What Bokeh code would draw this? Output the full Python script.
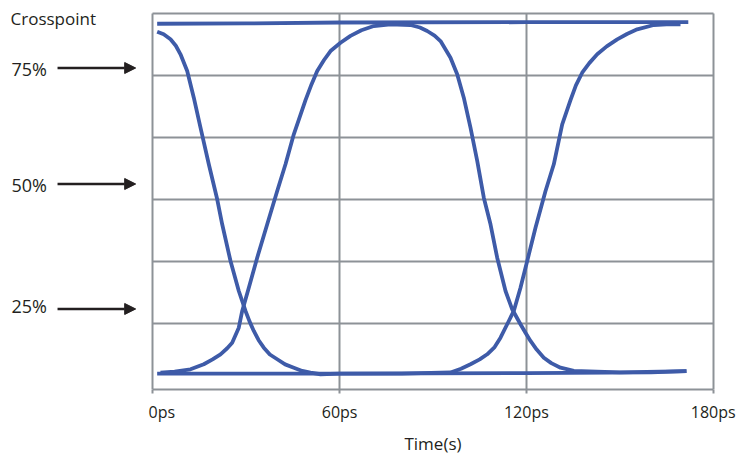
from bokeh.plotting import figure
from bokeh.layouts import row
from bokeh.models import FixedTicker, Grid, Label, Arrow, NormalHead, Range1d
from bokeh.embed import file_html
from bokeh.resources import INLINE

# ---- data ----
time_ticks = [0, 60, 120, 180]
tick_labels = ["0ps", "60ps", "120ps", "180ps"]
level_grid = [1, 2, 3, 4, 5, 6]
box_bottom = -0.065

top_t = [1.4, 30.0, 60.0, 120.0, 172.0]
top_v = [5.835, 5.84, 5.855, 5.86, 5.86]

bottom_t = [1.4, 60.0, 120.0, 160.0, 171.4]
bottom_v = [0.19, 0.19, 0.20, 0.21, 0.23]

# high -> low -> high
fall_rise_t = [1.41, 3.5, 5.69, 7.4, 8.90, 11.05, 13.17, 15.32, 17.99, 20.69, 22.29, 24.96,
               27.62, 29.78, 31.1, 32.44, 34.0, 35.65, 37.6, 39.96, 42.5, 45.29, 48.0, 50.65,
               53.87, 60.0, 80.0, 95.62, 99.0, 102.04, 105.0, 107.41, 109.8, 111.68, 114.35,
               115.95, 118.10, 120.26, 122.92, 126.14, 128.80, 131.50, 134.16, 135.9, 137.92,
               140.2, 142.74, 145.8, 149.17, 152.3, 155.59, 160.92, 165.0, 169.5]
fall_rise_v = [5.706, 5.665, 5.584, 5.48, 5.342, 5.073, 4.642, 4.158, 3.568, 3.003, 2.600, 2.008,
               1.524, 1.202, 1.03, 0.879, 0.73, 0.610, 0.50, 0.423, 0.34, 0.287, 0.235, 0.206,
               0.181, 0.19, 0.19, 0.21, 0.27, 0.342, 0.42, 0.503, 0.62, 0.771, 1.040,
               1.202, 1.577, 2.008, 2.545, 3.137, 3.568, 4.213, 4.602, 4.84, 5.045,
               5.20, 5.342, 5.47, 5.584, 5.67, 5.745, 5.815, 5.826, 5.826]

# low -> high -> low
rise_fall_t = [2.47, 7.0, 12.11, 16.38, 19.2, 21.75, 23.9, 25.50, 27.62, 28.72, 30.84, 33.53,
               36.75, 39.96, 42.62, 45.29, 49.05, 51.0, 52.81, 55.0, 57.08, 60.29, 63.50, 67.0,
               70.99, 76.35, 82.77, 85.8, 88.14, 90.5, 92.41, 95.62, 97.77, 99.89, 102.04,
               104.20, 106.32, 108.47, 110.62, 113.29, 115.44, 118.10, 119.7, 121.32, 123.3,
               125.59, 128.0, 130.95, 135.23, 150.0, 171.43]
rise_fall_v = [0.206, 0.225, 0.261, 0.342, 0.42, 0.503, 0.60, 0.690, 0.932, 1.202, 1.577, 2.061,
               2.600, 3.137, 3.568, 4.052, 4.602, 4.86, 5.073, 5.25, 5.395, 5.529, 5.640, 5.73,
               5.798, 5.826, 5.815, 5.775, 5.718, 5.645, 5.556, 5.287, 5.019, 4.642, 4.158,
               3.621, 3.029, 2.600, 2.061, 1.524, 1.229, 0.987, 0.85, 0.718, 0.58,
               0.448, 0.36, 0.287, 0.234, 0.21, 0.23]

crosspoint_title = "Crosspoint"
crosspoint_labels = ["75%", "50%", "25%"]
crosspoint_arrow_levels = [5.121, 3.25, 1.234]
crosspoint_label_levels = [5.105, 3.234, 1.29]

# ---- styles ----
BLUE = "#3e5ba8"
GREY = "#8d9297"
TXT = "#231f20"
FONT = "Open Sans"
Y_RANGE = (box_bottom, 6.21)

# ---- main chart ----
p = figure(frame_width=569, frame_height=389,
           min_border_left=0, min_border_right=24, min_border_top=0, min_border_bottom=0,
           x_range=Range1d(-1.381, 181.38), y_range=Range1d(*Y_RANGE),
           y_axis_location=None, output_backend="svg", toolbar_location=None,
           background_fill_color="white", border_fill_color="white")
p.outline_line_color = None

ax = p.xaxis[0]
ax.bounds = (time_ticks[0], time_ticks[-1])
ax.ticker = FixedTicker(ticks=time_ticks)
ax.major_label_overrides = dict(zip(time_ticks, tick_labels))
ax.axis_line_color = GREY
ax.axis_line_width = 2
ax.major_tick_line_color = GREY
ax.major_tick_line_width = 2
ax.major_tick_out = 4
ax.major_tick_in = 0
ax.minor_tick_line_color = None
ax.major_label_standoff = 7
ax.major_label_text_font = FONT
ax.major_label_text_font_size = "16px"
ax.major_label_text_color = TXT
ax.axis_label = "Time(s)"
ax.axis_label_text_font = FONT
ax.axis_label_text_font_size = "17px"
ax.axis_label_text_font_style = "normal"
ax.axis_label_text_color = TXT
ax.axis_label_standoff = 6

p.grid.visible = False
p.add_layout(Grid(dimension=0, ticker=FixedTicker(ticks=time_ticks),
                  cross_bounds=(box_bottom, level_grid[-1]),
                  grid_line_color=GREY, grid_line_width=2), "center")
p.add_layout(Grid(dimension=1, ticker=FixedTicker(ticks=level_grid),
                  cross_bounds=(time_ticks[0], time_ticks[-1]),
                  grid_line_color=GREY, grid_line_width=2), "center")

for xs, ys in [(top_t, top_v), (bottom_t, bottom_v),
               (fall_rise_t, fall_rise_v), (rise_fall_t, rise_fall_v)]:
    p.line(xs, ys, line_color=BLUE, line_width=3.8, line_join="round")

# ---- left annotation panel (frame aligned with the chart frame, same vertical scale) ----
lf = figure(frame_width=148, frame_height=389,
            min_border_left=0, min_border_right=0, min_border_top=0, min_border_bottom=0,
            x_range=Range1d(-48.92, -1.381), y_range=Range1d(*Y_RANGE),
            x_axis_location=None, y_axis_location=None,
            output_backend="svg", toolbar_location=None,
            background_fill_color="white", border_fill_color="white")
lf.outline_line_color = None
lf.grid.visible = False

lf.add_layout(Label(x=-45.7, y=5.927, text=crosspoint_title, text_font=FONT,
                    text_font_size="17px", text_color=TXT, text_baseline="middle",
                    text_align="left"))
for lab, lab_lev, arr_lev in zip(crosspoint_labels, crosspoint_label_levels,
                                 crosspoint_arrow_levels):
    lf.add_layout(Label(x=-45.4, y=lab_lev, text=lab, text_font=FONT,
                        text_font_size="18px", text_color=TXT, text_baseline="middle",
                        text_align="left"))
    lf.add_layout(Arrow(x_start=-30.6, y_start=arr_lev, x_end=-5.5, y_end=arr_lev,
                        line_color=TXT, line_width=2.5,
                        end=NormalHead(size=11, fill_color=TXT, line_color=TXT)))

layout = row(lf, p, spacing=0)
open("out.html", "w").write(file_html(layout, INLINE))
